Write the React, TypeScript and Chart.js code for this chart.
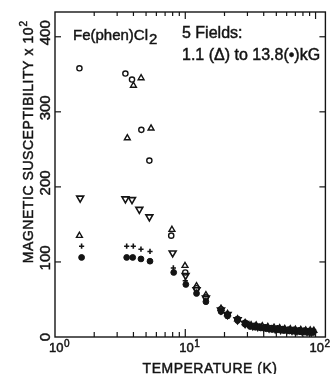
import React, { useEffect, useRef } from "react";
import { Chart, registerables } from "chart.js";

Chart.register(...registerables);

const FONT = '"Liberation Sans", Arial, sans-serif';
const INK = "#141414";

// Temperature (K) and magnetic susceptibility (x10^2), one pair of arrays per field
// Δ : 1.1 kG
const tempTri = [1.54, 3.59, 4.0, 4.58, 5.46, 7.9, 9.95, 12.2, 14.4, 18.8, 21.1, 25.2, 28.8, 32, 35, 39, 43, 48, 53, 58, 64, 70, 77, 84, 91, 97];
const chiTri = [135, 265, 335, 345, 278, 143, 95, 68, 56, 38, 31, 24, 19, 16, 15.5, 14.5, 13.5, 12.5, 12, 11, 10.5, 10, 9.5, 9, 9, 8.5];
// ○
const tempCirc = [1.54, 3.47, 3.9, 4.6, 5.3, 7.8, 10.0, 12.2, 14.4, 18.8, 21.1, 25.2, 28.8, 31, 34, 37, 41, 46, 51, 56, 62, 68, 75, 82, 88, 95];
const chiCirc = [358, 351, 343, 276, 235, 135, 86, 65, 53, 37, 30, 24, 19, 16, 15, 14, 13, 12, 11.5, 10.5, 10, 9.5, 9, 8.5, 8, 8];
// ▽
const tempInv = [1.56, 3.47, 3.9, 4.44, 5.3, 8.0, 10.05, 12.2, 14.4, 18.8, 21.1, 25.2, 28.8, 33, 36, 40, 44, 49, 54, 60, 66, 72, 79, 86, 93];
const chiInv = [185, 184, 183, 170, 160, 112, 82, 63, 52, 36, 30, 23, 18, 15, 14, 13, 12, 11, 10, 9.5, 9, 8.5, 8, 7.5, 7];
// +
const tempPlus = [1.6, 3.55, 3.99, 4.57, 5.36, 8.1, 10.0, 12.2, 14.4, 18.8, 21.1, 25.2, 28.8, 32, 35.5, 39.5, 43.5, 48.5, 53.5, 59, 65, 71, 78, 85, 92, 98];
const chiPlus = [121, 121, 121, 117, 114, 92, 75, 60, 49, 35, 29, 23, 18, 14.5, 13.5, 12.5, 11.5, 10.5, 10, 9, 8.5, 8, 7.5, 7, 7, 6.5];
// ● : 13.8 kG
const tempDot = [1.6, 3.55, 3.95, 4.57, 5.36, 8.15, 10.1, 12.2, 14.4, 18.8, 21.1, 25.2, 28.8, 31.5, 34.5, 38, 42, 46.5, 51.5, 57, 63, 69, 76, 83, 90, 96];
const chiDot = [106, 106, 106, 104, 101, 86, 70, 58, 47, 34, 28, 22, 17, 14, 13, 12, 11, 10, 9.5, 8.5, 8, 7.5, 7, 6.5, 6, 6];

// Axes
const yTicks = [0, 100, 200, 300, 400];
const xMajor = [1, 10, 100];
const xMajorExp = ["0", "1", "2"];
const xMinor = [2, 3, 4, 5, 6, 7, 8, 9, 20, 30, 40, 50, 60, 70, 80, 90];
const X_MIN = 1;
const X_MAX = 119;
const Y_MIN = 0;
const Y_MAX = 433;

const toPoints = (t: number[], v: number[]) => t.map((x, i) => ({ x, y: v[i] }));

const framePlugin = {
  id: "frame",
  afterDraw(chart: any) {
    const { ctx, chartArea: a, scales } = chart;
    const xs = scales.x;
    const ys = scales.y;
    ctx.save();
    ctx.strokeStyle = INK;
    ctx.fillStyle = INK;
    ctx.lineWidth = 1.4;
    ctx.strokeRect(a.left, a.top, a.right - a.left, a.bottom - a.top);

    const line = (x1: number, y1: number, x2: number, y2: number) => {
      ctx.beginPath();
      ctx.moveTo(x1, y1);
      ctx.lineTo(x2, y2);
      ctx.stroke();
    };
    ctx.lineWidth = 1.2;
    yTicks.forEach((v) => {
      if (v === 0) return;
      const py = ys.getPixelForValue(v);
      line(a.left, py, a.left + 6, py);
      line(a.right, py, a.right - 6, py);
    });
    xMinor.forEach((v) => {
      const px = xs.getPixelForValue(v);
      line(px, a.bottom, px, a.bottom - 5);
      line(px, a.top, px, a.top + 4);
    });
    xMajor.forEach((v) => {
      const px = xs.getPixelForValue(v);
      if (px <= a.left + 1) return;
      line(px, a.bottom, px, a.bottom - 8);
      line(px, a.top, px, a.top + 7);
    });

    // text gets a faint outline so the strokes are as heavy as the lettering in the original
    ctx.lineWidth = 0.45;
    const txt = (s: string, x: number, y: number) => {
      ctx.fillText(s, x, y);
      ctx.strokeText(s, x, y);
    };

    // y tick labels (rotated)
    ctx.font = `15px ${FONT}`;
    ctx.textAlign = "center";
    ctx.textBaseline = "alphabetic";
    yTicks.forEach((v) => {
      const py = ys.getPixelForValue(v) - (v === 0 ? 0 : 4);
      ctx.save();
      ctx.translate(50, py);
      ctx.rotate(-Math.PI / 2);
      txt(String(v), 0, 0);
      ctx.restore();
    });

    // x tick labels 10^n
    xMajor.forEach((v, i) => {
      const px = xs.getPixelForValue(v) + 4;
      ctx.font = `13px ${FONT}`;
      const wm = ctx.measureText("10").width;
      ctx.font = `10px ${FONT}`;
      const ws = ctx.measureText(xMajorExp[i]).width;
      const start = px - (wm + ws) / 2;
      ctx.textAlign = "left";
      ctx.font = `13px ${FONT}`;
      txt("10", start, 352);
      ctx.font = `10px ${FONT}`;
      txt(xMajorExp[i], start + wm + 0.5, 347);
    });

    // x title
    ctx.font = `14px ${FONT}`;
    ctx.textAlign = "center";
    (ctx as any).letterSpacing = "0.5px";
    txt("TEMPERATURE (K)", 210, 372.5);

    // y title (rotated)
    ctx.save();
    ctx.translate(33, 142);
    ctx.rotate(-Math.PI / 2);
    (ctx as any).letterSpacing = "0.55px";
    ctx.font = `14px ${FONT}`;
    const main = "MAGNETIC SUSCEPTIBILITY x 10";
    const wmain = ctx.measureText(main).width;
    ctx.font = `10px ${FONT}`;
    const wsup = ctx.measureText("2").width;
    const s = -(wmain + wsup) / 2;
    ctx.textAlign = "left";
    ctx.font = `14px ${FONT}`;
    txt(main, s, 0);
    ctx.font = `10px ${FONT}`;
    txt("2", s + wmain + 0.5, -6);
    ctx.restore();
    (ctx as any).letterSpacing = "0px";

    // annotations
    ctx.textAlign = "left";
    ctx.font = `15px ${FONT}`;
    const comp = "Fe(phen)Cl";
    txt(comp, 73, 40);
    const wc = ctx.measureText(comp).width;
    txt("2", 73 + wc + 1, 43.5);
    ctx.font = `16px ${FONT}`;
    txt("5 Fields:", 182, 38);
    txt("1.1 (Δ) to 13.8(•)kG", 182, 59.5);

    ctx.restore();
  },
};

export default function App() {
  const ref = useRef<HTMLCanvasElement | null>(null);

  useEffect(() => {
    if (!ref.current) return;
    const base = { borderColor: INK, showLine: false, pointHoverRadius: 0 };
    const chart = new Chart(ref.current, {
      type: "scatter",
      data: {
        datasets: [
          {
            ...base,
            label: "○",
            data: toPoints(tempCirc, chiCirc),
            pointStyle: "circle",
            pointRadius: 2.6,
            pointBorderWidth: 1.4,
            backgroundColor: "rgba(0,0,0,0)",
          },
          {
            ...base,
            label: "1.1 kG (Δ)",
            data: toPoints(tempTri, chiTri),
            pointStyle: "triangle",
            pointRadius: 3.4,
            pointBorderWidth: 1.4,
            backgroundColor: "rgba(0,0,0,0)",
          },
          {
            ...base,
            label: "▽",
            data: toPoints(tempInv, chiInv),
            pointStyle: "triangle",
            pointRotation: 180,
            pointRadius: 4,
            pointBorderWidth: 1.6,
            backgroundColor: "rgba(0,0,0,0)",
          },
          {
            ...base,
            label: "+",
            data: toPoints(tempPlus, chiPlus),
            pointStyle: "cross",
            pointRadius: 2.6,
            pointBorderWidth: 1.6,
            backgroundColor: INK,
          },
          {
            ...base,
            label: "13.8 kG (●)",
            data: toPoints(tempDot, chiDot),
            pointStyle: "circle",
            pointRadius: 2.9,
            pointBorderWidth: 1,
            backgroundColor: INK,
          },
        ],
      },
      options: {
        animation: false,
        responsive: false,
        devicePixelRatio: 1,
        events: [],
        layout: { padding: { left: 55, right: 4.5, top: 12, bottom: 37 } },
        plugins: { legend: { display: false }, tooltip: { enabled: false } },
        scales: {
          x: { type: "logarithmic", min: X_MIN, max: X_MAX, display: false },
          y: { type: "linear", min: Y_MIN, max: Y_MAX, display: false },
        },
      },
      plugins: [framePlugin],
    });
    return () => chart.destroy();
  }, []);

  return (
    <div style={{ position: "fixed", left: 0, top: 0, width: 331, height: 374, background: "#fff" }}>
      <canvas ref={ref} width={331} height={374} style={{ width: 331, height: 374, display: "block" }} />
    </div>
  );
}
